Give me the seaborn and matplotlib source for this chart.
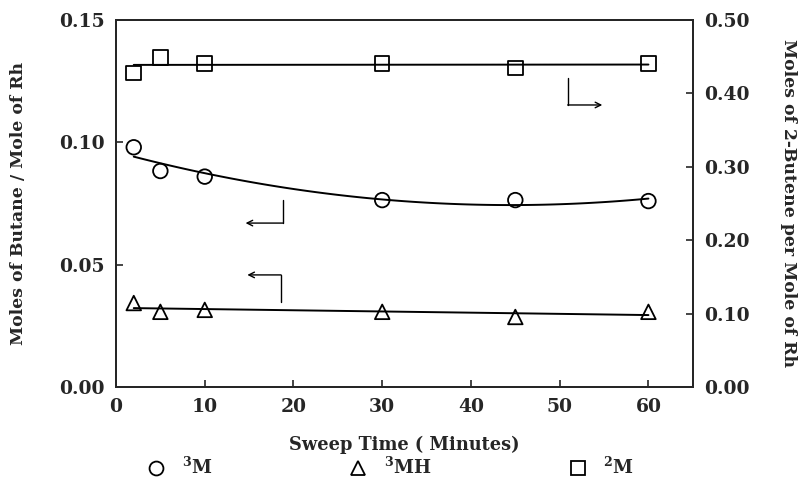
import numpy as np
import pandas as pd
import matplotlib
matplotlib.use('Agg')
import matplotlib.pyplot as plt
from matplotlib.lines import Line2D
import seaborn as sns

# Data
sweep_time = [2, 5, 10, 30, 45, 60]
butane_3m = [0.098, 0.0883, 0.086, 0.0764, 0.0764, 0.076]
butane_3mh = [0.0343, 0.0307, 0.0315, 0.0307, 0.0286, 0.0307]
butene_2m = [0.428, 0.449, 0.441, 0.441, 0.435, 0.441]

df = pd.DataFrame({'time': sweep_time, 'm3': butane_3m, 'mh3': butane_3mh, 'm2': butene_2m})

sns.set_style('ticks')
plt.rcParams['font.family'] = ['DejaVu Serif']
plt.rcParams['font.weight'] = 'bold'
plt.rcParams['mathtext.fontset'] = 'dejavuserif'
plt.rcParams['mathtext.default'] = 'bf'
plt.rcParams['xtick.direction'] = 'in'
plt.rcParams['ytick.direction'] = 'in'

fig = plt.figure(figsize=(8, 4.91), dpi=100)
ax = fig.add_axes([0.145, 0.212, 0.721, 0.747])
ax2 = ax.twinx()

mk = dict(facecolor='none', edgecolor='black', linewidth=1.3, s=110, zorder=3)
line_kw = dict(color='black', linewidth=1.4)

# left axis: butane
sns.regplot(data=df, x='time', y='m3', order=2, ci=None, scatter=False, ax=ax, line_kws=line_kw)
sns.scatterplot(data=df, x='time', y='m3', marker='o', ax=ax, **mk)
sns.regplot(data=df, x='time', y='mh3', order=1, ci=None, scatter=False, ax=ax, line_kws=line_kw)
sns.scatterplot(data=df, x='time', y='mh3', marker='^', ax=ax, **mk)

# right axis: 2-butene
sns.regplot(data=df, x='time', y='m2', order=1, ci=None, scatter=False, ax=ax2, line_kws=line_kw)
sns.scatterplot(data=df, x='time', y='m2', marker='s', ax=ax2, **mk)

ax.set_xlim(0, 65)
ax.set_ylim(0, 0.15)
ax2.set_ylim(0, 0.50)
ax.set_xticks([0, 10, 20, 30, 40, 50, 60])
ax.set_yticks([0, 0.05, 0.10, 0.15])
ax.set_yticklabels(['0.00', '0.05', '0.10', '0.15'])
ax2.set_yticks([0, 0.1, 0.2, 0.3, 0.4, 0.5])
ax2.set_yticklabels(['0.00', '0.10', '0.20', '0.30', '0.40', '0.50'])

for a in (ax, ax2):
    a.tick_params(labelsize=13.5, length=5, width=1.2, pad=8)
    for s in a.spines.values():
        s.set_linewidth(1.4)
        s.set_visible(True)

ax.set_xlabel('Sweep Time ( Minutes)', fontsize=12.8, fontweight='bold', labelpad=14)
ax.set_ylabel('Moles of Butane / Mole of Rh', fontsize=12.4, fontweight='bold', labelpad=23)
ax2.set_ylabel('Moles of 2-Butene per Mole of Rh', fontsize=12.4, fontweight='bold',
               rotation=-90, labelpad=34)

# bent arrows pointing to the axis each curve belongs to
arrows = [
    ((18.8, 0.0764), (18.8, 0.067), (14.6, 0.067)),
    ((18.6, 0.0347), (18.6, 0.0458), (14.8, 0.0458)),
    ((50.9, 0.1263), (50.9, 0.1153), (54.8, 0.1153)),
]
for start, corner, end in arrows:
    ax.plot([start[0], corner[0]], [start[1], corner[1]], color='black', linewidth=1.0)
    ax.annotate('', xy=end, xytext=corner,
                arrowprops=dict(arrowstyle='->', color='black', lw=1.0, shrinkA=0, shrinkB=0))

handles = [
    Line2D([], [], marker='o', linestyle='none', markerfacecolor='none', markeredgecolor='black', markersize=10, markeredgewidth=1.3),
    Line2D([], [], marker='^', linestyle='none', markerfacecolor='none', markeredgecolor='black', markersize=10, markeredgewidth=1.3),
    Line2D([], [], marker='s', linestyle='none', markerfacecolor='none', markeredgecolor='black', markersize=10, markeredgewidth=1.3),
]
labels = [r'$^{3}$M', r'$^{3}$MH', r'$^{2}$M']
fig.legend(handles, labels, loc='lower center', bbox_to_anchor=(0.488, -0.007), ncol=3,
           frameon=False, fontsize=13, columnspacing=7.6, handlelength=1.0, handletextpad=0.9)

fig.savefig('out.png', dpi=100)
